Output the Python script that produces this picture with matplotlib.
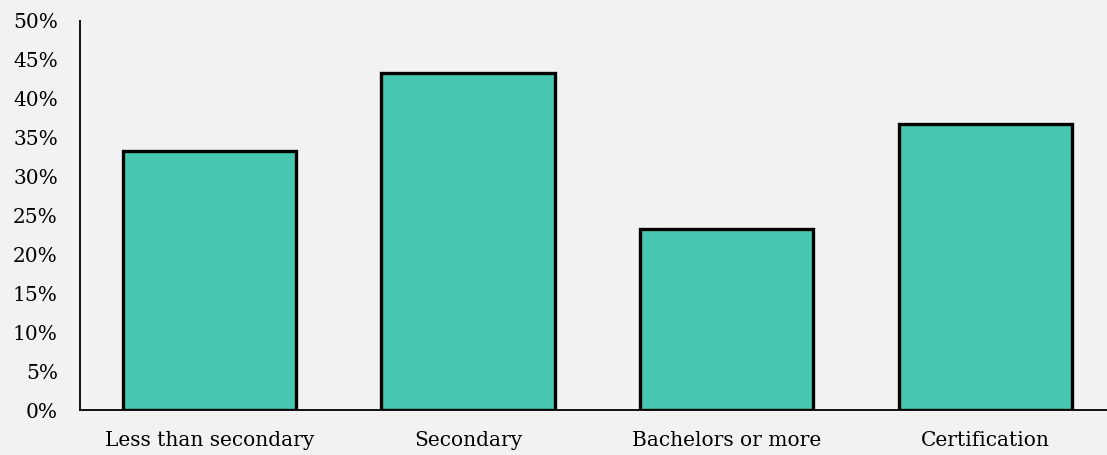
import matplotlib.pyplot as plt
from matplotlib.ticker import PercentFormatter

categorias = ["Less than secondary", "Secondary", "Bachelors or more", "Certification"]
valores = [33.3, 43.3, 23.3, 36.7]
ticks_y = [0, 5, 10, 15, 20, 25, 30, 35, 40, 45, 50]

plt.rcParams['font.family'] = ['DejaVu Serif']

fig = plt.figure(figsize=(11.07, 4.55), dpi=100)
fig.patch.set_facecolor('#f2f2f2')
ax = fig.add_axes([80/1107, 45/455, 1 - 80/1107, 389/455])
ax.set_facecolor('#f2f2f2')

ax.bar(range(len(categorias)), valores, width=0.67, color='#48c7b0',
       edgecolor='black', linewidth=2.4)

ax.set_ylim(0, 50)
ax.set_xlim(-0.5, 3.47)
ax.set_yticks(ticks_y)
ax.yaxis.set_major_formatter(PercentFormatter(decimals=0))
ax.set_xticks(range(len(categorias)))
ax.set_xticklabels(categorias)
ax.tick_params(axis='both', length=0, labelsize=14.5)
ax.tick_params(axis='y', pad=16)
ax.tick_params(axis='x', pad=15)

for lado in ['top', 'right']:
    ax.spines[lado].set_visible(False)
for lado in ['left', 'bottom']:
    ax.spines[lado].set_linewidth(1.3)

fig.savefig("out.png", dpi=100, facecolor=fig.get_facecolor())
